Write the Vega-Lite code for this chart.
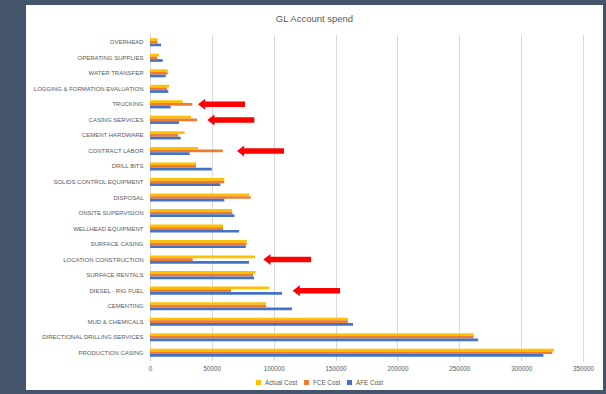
{
  "$schema": "https://vega.github.io/schema/vega-lite/v6.json",
  "width": 577,
  "height": 385,
  "autosize": {"type": "none"},
  "padding": {"left": 26, "top": 5, "right": 3, "bottom": 4},
  "background": "#44546A",
  "view": {"fill": "white", "stroke": null},
  "title": {"text": "GL Account spend", "fontSize": 9.5, "fontWeight": "normal", "color": "#595959", "font": "Liberation Sans", "offset": -18, "anchor": "middle"},
  "config": {"font": "Liberation Sans"},
  "datasets": {
    "costs": [
      {"account": "OVERHEAD", "series": "Actual Cost", "cost": 6200},
      {"account": "OVERHEAD", "series": "FCE Cost", "cost": 6000},
      {"account": "OVERHEAD", "series": "AFE Cost", "cost": 9000},
      {"account": "OPERATING SUPPLIES", "series": "Actual Cost", "cost": 7300},
      {"account": "OPERATING SUPPLIES", "series": "FCE Cost", "cost": 5700},
      {"account": "OPERATING SUPPLIES", "series": "AFE Cost", "cost": 10300},
      {"account": "WATER TRANSFER", "series": "Actual Cost", "cost": 14300},
      {"account": "WATER TRANSFER", "series": "FCE Cost", "cost": 14300},
      {"account": "WATER TRANSFER", "series": "AFE Cost", "cost": 12700},
      {"account": "LOGGING & FORMATION EVALUATION", "series": "Actual Cost", "cost": 15400},
      {"account": "LOGGING & FORMATION EVALUATION", "series": "FCE Cost", "cost": 13700},
      {"account": "LOGGING & FORMATION EVALUATION", "series": "AFE Cost", "cost": 14800},
      {"account": "TRUCKING", "series": "Actual Cost", "cost": 26400},
      {"account": "TRUCKING", "series": "FCE Cost", "cost": 34200},
      {"account": "TRUCKING", "series": "AFE Cost", "cost": 16700},
      {"account": "CASING SERVICES", "series": "Actual Cost", "cost": 33100},
      {"account": "CASING SERVICES", "series": "FCE Cost", "cost": 38000},
      {"account": "CASING SERVICES", "series": "AFE Cost", "cost": 23400},
      {"account": "CEMENT HARDWARE", "series": "Actual Cost", "cost": 28000},
      {"account": "CEMENT HARDWARE", "series": "FCE Cost", "cost": 22900},
      {"account": "CEMENT HARDWARE", "series": "AFE Cost", "cost": 24800},
      {"account": "CONTRACT LABOR", "series": "Actual Cost", "cost": 38800},
      {"account": "CONTRACT LABOR", "series": "FCE Cost", "cost": 58800},
      {"account": "CONTRACT LABOR", "series": "AFE Cost", "cost": 32100},
      {"account": "DRILL BITS", "series": "Actual Cost", "cost": 37200},
      {"account": "DRILL BITS", "series": "FCE Cost", "cost": 37200},
      {"account": "DRILL BITS", "series": "AFE Cost", "cost": 49900},
      {"account": "SOLIDS CONTROL EQUIPMENT", "series": "Actual Cost", "cost": 60100},
      {"account": "SOLIDS CONTROL EQUIPMENT", "series": "FCE Cost", "cost": 60000},
      {"account": "SOLIDS CONTROL EQUIPMENT", "series": "AFE Cost", "cost": 56900},
      {"account": "DISPOSAL", "series": "Actual Cost", "cost": 80300},
      {"account": "DISPOSAL", "series": "FCE Cost", "cost": 81400},
      {"account": "DISPOSAL", "series": "AFE Cost", "cost": 60100},
      {"account": "ONSITE SUPERVISION", "series": "Actual Cost", "cost": 66300},
      {"account": "ONSITE SUPERVISION", "series": "FCE Cost", "cost": 66500},
      {"account": "ONSITE SUPERVISION", "series": "AFE Cost", "cost": 68200},
      {"account": "WELLHEAD EQUIPMENT", "series": "Actual Cost", "cost": 59000},
      {"account": "WELLHEAD EQUIPMENT", "series": "FCE Cost", "cost": 59000},
      {"account": "WELLHEAD EQUIPMENT", "series": "AFE Cost", "cost": 72000},
      {"account": "SURFACE CASING", "series": "Actual Cost", "cost": 78200},
      {"account": "SURFACE CASING", "series": "FCE Cost", "cost": 78000},
      {"account": "SURFACE CASING", "series": "AFE Cost", "cost": 77400},
      {"account": "LOCATION CONSTRUCTION", "series": "Actual Cost", "cost": 84900},
      {"account": "LOCATION CONSTRUCTION", "series": "FCE Cost", "cost": 34500},
      {"account": "LOCATION CONSTRUCTION", "series": "AFE Cost", "cost": 80000},
      {"account": "SURFACE RENTALS", "series": "Actual Cost", "cost": 85200},
      {"account": "SURFACE RENTALS", "series": "FCE Cost", "cost": 83300},
      {"account": "SURFACE RENTALS", "series": "AFE Cost", "cost": 84100},
      {"account": "DIESEL - RIG FUEL", "series": "Actual Cost", "cost": 96500},
      {"account": "DIESEL - RIG FUEL", "series": "FCE Cost", "cost": 65500},
      {"account": "DIESEL - RIG FUEL", "series": "AFE Cost", "cost": 106700},
      {"account": "CEMENTING", "series": "Actual Cost", "cost": 93800},
      {"account": "CEMENTING", "series": "FCE Cost", "cost": 93800},
      {"account": "CEMENTING", "series": "AFE Cost", "cost": 114800},
      {"account": "MUD & CHEMICALS", "series": "Actual Cost", "cost": 160100},
      {"account": "MUD & CHEMICALS", "series": "FCE Cost", "cost": 160000},
      {"account": "MUD & CHEMICALS", "series": "AFE Cost", "cost": 164100},
      {"account": "DIRECTIONAL DRILLING SERVICES", "series": "Actual Cost", "cost": 261700},
      {"account": "DIRECTIONAL DRILLING SERVICES", "series": "FCE Cost", "cost": 261500},
      {"account": "DIRECTIONAL DRILLING SERVICES", "series": "AFE Cost", "cost": 265200},
      {"account": "PRODUCTION CASING", "series": "Actual Cost", "cost": 326600},
      {"account": "PRODUCTION CASING", "series": "FCE Cost", "cost": 325200},
      {"account": "PRODUCTION CASING", "series": "AFE Cost", "cost": 318000}
    ],
    "arrows": [
      {"account": "TRUCKING", "tip": 38800, "tail": 76800},
      {"account": "CASING SERVICES", "tip": 46300, "tail": 84300},
      {"account": "CONTRACT LABOR", "tip": 70300, "tail": 108300},
      {"account": "LOCATION CONSTRUCTION", "tip": 91600, "tail": 130200},
      {"account": "DIESEL - RIG FUEL", "tip": 115300, "tail": 153600}
    ]
  },
  "layer": [
    {
      "data": {"name": "costs"},
      "mark": {"type": "bar"},
      "encoding": {
        "y": {
          "field": "account", "type": "nominal", "sort": null,
          "scale": {
            "domain": ["OVERHEAD", "OPERATING SUPPLIES", "WATER TRANSFER", "LOGGING & FORMATION EVALUATION", "TRUCKING", "CASING SERVICES", "CEMENT HARDWARE", "CONTRACT LABOR", "DRILL BITS", "SOLIDS CONTROL EQUIPMENT", "DISPOSAL", "ONSITE SUPERVISION", "WELLHEAD EQUIPMENT", "SURFACE CASING", "LOCATION CONSTRUCTION", "SURFACE RENTALS", "DIESEL - RIG FUEL", "CEMENTING", "MUD & CHEMICALS", "DIRECTIONAL DRILLING SERVICES", "PRODUCTION CASING"],
            "range": [29.5, 355.5], "paddingInner": 0.48, "paddingOuter": 0.24
          },
          "axis": {"orient": "left", "offset": -124, "title": null, "labelFontSize": 6, "labelColor": "#595959", "ticks": false, "tickSize": 0, "labelPadding": 7, "domainColor": "#d9d9d9", "grid": false, "labelLimit": 200}
        },
        "x": {
          "field": "cost", "type": "quantitative",
          "scale": {"domain": [0, 350000], "range": [124, 557], "nice": false, "zero": true},
          "axis": {"orient": "bottom", "offset": -29.5, "values": [0, 50000, 100000, 150000, 200000, 250000, 300000, 350000], "format": "d", "labelFontSize": 6.3, "labelColor": "#595959", "domain": false, "ticks": false, "tickSize": 0, "labelPadding": 5, "grid": true, "gridColor": "#d9d9d9", "title": null, "labelFlush": false}
        },
        "yOffset": {"field": "series", "type": "nominal", "sort": ["Actual Cost", "FCE Cost", "AFE Cost"]},
        "color": {
          "field": "series", "type": "nominal", "sort": ["Actual Cost", "FCE Cost", "AFE Cost"],
          "scale": {"domain": ["Actual Cost", "FCE Cost", "AFE Cost"], "range": ["#FFC000", "#ED7D31", "#4472C4"]},
          "legend": {"orient": "none", "legendX": 229, "legendY": 374, "direction": "horizontal", "gridAlign": "none", "title": null, "symbolType": "square", "symbolSize": 25, "labelFontSize": 6.3, "labelColor": "#595959", "columnPadding": 5, "labelOffset": 3, "padding": 0}
        }
      }
    },
    {
      "data": {"name": "arrows"},
      "mark": {"type": "rule", "color": "#FF0000", "strokeWidth": 5.5, "xOffset": 6.5, "strokeCap": "butt"},
      "encoding": {
        "y": {"field": "account", "type": "nominal", "sort": null},
        "x": {"field": "tip", "type": "quantitative"},
        "x2": {"field": "tail"}
      }
    },
    {
      "data": {"name": "arrows"},
      "mark": {"type": "point", "shape": "M-1,0L0.3,-1L0.3,1Z", "size": 121, "filled": true, "color": "#FF0000", "opacity": 1, "xOffset": 5.5},
      "encoding": {
        "y": {"field": "account", "type": "nominal", "sort": null},
        "x": {"field": "tip", "type": "quantitative"}
      }
    }
  ]
}
